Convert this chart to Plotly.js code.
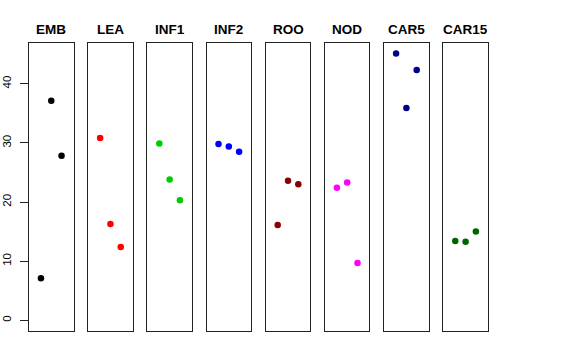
<!DOCTYPE html>
<html><head><meta charset="utf-8">
<script src="https://cdn.plot.ly/plotly-3.0.1.min.js"></script>
<style>html,body{margin:0;padding:0;background:#fff}</style>
</head><body><div id="chart" style="width:576px;height:360px"></div>
<script>
const panels = ["EMB","LEA","INF1","INF2","ROO","NOD","CAR5","CAR15"];
const xPos = [1,2,3];
const EMB = [7.1,37.1,27.8];
const LEA = [30.8,16.3,12.4];
const INF1 = [29.9,23.8,20.3];
const INF2 = [29.8,29.4,28.5];
const ROO = [16.1,23.6,23.0];
const NOD = [22.4,23.3,9.7];
const CAR5 = [45.1,35.9,42.3];
const CAR15 = [13.4,13.3,15.0];
const seriesVals = [EMB,LEA,INF1,INF2,ROO,NOD,CAR5,CAR15];
const colors = ["#000000","#FF0000","#00CD00","#0000FF","#8B0000","#FF00FF","#00008B","#006400"];
const yTicks = [0,10,20,30,40];

const W=576,H=360;
const left0=29, step=59.19, pw=44.5;
const yBot=1-331/H, yTop=1-43.3/H;
const traces=[]; const layout={
  width:W,height:H,margin:{l:0,r:0,t:0,b:0},showlegend:false,
  paper_bgcolor:"#fff",plot_bgcolor:"#fff",annotations:[],
  font:{family:"Liberation Sans, Arial, sans-serif",color:"#000"}
};
panels.forEach((p,i)=>{
  const n=i===0?"":String(i+1);
  traces.push({type:"scatter",mode:"markers",x:xPos,y:seriesVals[i],
    xaxis:"x"+n,yaxis:"y"+n,marker:{color:colors[i],size:6.5},hoverinfo:"skip"});
  const x0=(left0+i*step)/W, x1=(left0+i*step+pw)/W;
  layout["xaxis"+n]={domain:[x0,x1],range:[-0.16,4.16],showticklabels:false,ticks:"",
    showgrid:false,zeroline:false,showline:true,mirror:true,linecolor:"#222",linewidth:1,anchor:"y"+n};
  layout["yaxis"+n]={domain:[yBot,yTop],range:[-1.81,46.83],showgrid:false,zeroline:false,
    showline:true,mirror:true,linecolor:"#222",linewidth:1,anchor:"x"+n,
    showticklabels:i===0,ticks:i===0?"outside":"",ticklen:8,tickcolor:"#222",
    tickvals:yTicks,ticktext:yTicks.map(String),tickangle:-90,ticklabelstandoff:4,
    tickfont:{size:11.5,color:"#000"}};
  layout.annotations.push({text:"<b>"+p+"</b>",xref:"paper",yref:"paper",
    x:(x0+x1)/2,y:1-29.5/H,xanchor:"center",yanchor:"middle",showarrow:false,
    font:{size:13.5,color:"#000"}});
});
Plotly.newPlot("chart",traces,layout,{staticPlot:true});
</script></body></html>
